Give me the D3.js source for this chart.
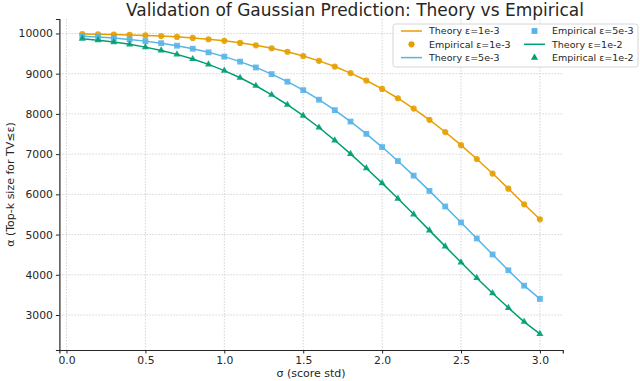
<!DOCTYPE html>
<html>
  <head>
    <meta charset="UTF-8" />
    <style>
      body { margin: 0; background: #fff; }
      svg { display: block; font-family: "DejaVu Sans", sans-serif; }
      .tick text { fill: #262626; }
      .grid line { stroke: #d4d4d4; stroke-dasharray: 1.5,1.5; }
    </style>
  </head>
  <body>
    <svg></svg>
    <script src="https://d3js.org/d3.v7.min.js"></script>
    <script>
      let width = 640,
        height = 381;

      // sigma values on the x axis
      const sigmas = [0.1, 0.2, 0.3, 0.4, 0.5, 0.6, 0.7, 0.8, 0.9, 1.0,
        1.1, 1.2, 1.3, 1.4, 1.5, 1.6, 1.7, 1.8, 1.9, 2.0,
        2.1, 2.2, 2.3, 2.4, 2.5, 2.6, 2.7, 2.8, 2.9, 3.0];

      // eps = 1e-3
      const theory1 = [9986, 9981, 9974, 9964, 9952, 9936, 9916, 9890, 9857, 9817,
        9767, 9706, 9633, 9545, 9441, 9319, 9178, 9015, 8830, 8622,
        8390, 8133, 7853, 7550, 7225, 6880, 6518, 6142, 5754, 5380];
      const empirical1 = [9986, 9981, 9974, 9964, 9952, 9936, 9915, 9889, 9857, 9817,
        9766, 9706, 9632, 9545, 9440, 9319, 9178, 9015, 8829, 8621,
        8389, 8132, 7852, 7549, 7224, 6879, 6517, 6141, 5753, 5380];
      // eps = 5e-3
      const theory5 = [9934, 9912, 9886, 9852, 9810, 9759, 9697, 9621, 9531, 9425,
        9300, 9156, 8990, 8802, 8590, 8354, 8094, 7811, 7504, 7176,
        6829, 6465, 6087, 5698, 5302, 4903, 4506, 4113, 3729, 3400];
      const empirical5 = [9933, 9912, 9885, 9852, 9810, 9759, 9696, 9621, 9531, 9424,
        9300, 9155, 8990, 8801, 8590, 8353, 8094, 7810, 7504, 7176,
        6828, 6465, 6086, 5698, 5302, 4903, 4505, 4113, 3729, 3400];
      // eps = 1e-2
      const theory10 = [9870, 9833, 9786, 9730, 9661, 9579, 9481, 9365, 9231, 9076,
        8900, 8700, 8476, 8228, 7957, 7662, 7344, 7007, 6650, 6279,
        5895, 5503, 5105, 4706, 4311, 3922, 3543, 3179, 2831, 2530];
      const empirical10 = [9870, 9832, 9786, 9729, 9661, 9578, 9481, 9365, 9230, 9076,
        8899, 8700, 8475, 8228, 7956, 7662, 7343, 7006, 6650, 6278,
        5895, 5503, 5104, 4706, 4310, 3922, 3542, 3178, 2831, 2530];

      const xTicks = [0.0, 0.5, 1.0, 1.5, 2.0, 2.5, 3.0];
      const yTicks = [3000, 4000, 5000, 6000, 7000, 8000, 9000, 10000];

      const series = [
        { theory: theory1, emp: empirical1, color: "#E69F00", marker: "circle", eps: "1e-3" },
        { theory: theory5, emp: empirical5, color: "#56B4E9", marker: "square", eps: "5e-3" },
        { theory: theory10, emp: empirical10, color: "#009E73", marker: "triangle", eps: "1e-2" },
      ];

      let svg = d3.select("svg").attr("width", width).attr("height", height);

      const pLeft = 59.4, pRight = 562.8, pTop = 19, pBottom = 350;

      // matplotlib style 5% padding
      let pad = function (ext) {
        let d = (ext[1] - ext[0]) * 0.05;
        return [ext[0] - d, ext[1] + d];
      };

      let x = d3.scaleLinear().domain(pad(d3.extent(sigmas))).range([pLeft, pRight]);
      // y limits as in the figure
      let y = d3.scaleLinear().domain([2130, 10360]).range([pBottom, pTop]);

      // grid
      let grid = svg.append("g").attr("class", "grid");
      grid.selectAll(".gx").data(xTicks).enter().append("line")
        .attr("x1", (d) => x(d)).attr("x2", (d) => x(d))
        .attr("y1", pTop).attr("y2", pBottom);
      grid.selectAll(".gy").data(yTicks).enter().append("line")
        .attr("x1", pLeft).attr("x2", pRight)
        .attr("y1", (d) => y(d)).attr("y2", (d) => y(d));

      // axes
      let xAxis = svg.append("g")
        .attr("transform", "translate(0," + pBottom + ")")
        .call(d3.axisBottom(x).tickValues(xTicks).tickFormat(d3.format(".1f")).tickSize(3.5).tickPadding(2.5));
      let yAxis = svg.append("g")
        .attr("transform", "translate(" + pLeft + ",0)")
        .call(d3.axisLeft(y).tickValues(yTicks).tickFormat(d3.format("d")).tickSize(3.5).tickPadding(3));
      [xAxis, yAxis].forEach(function (a) {
        a.select(".domain").attr("stroke", "#262626").attr("stroke-width", 1.2);
        a.selectAll(".tick line").attr("stroke", "#262626");
        a.selectAll(".tick text").style("font-size", "10.8px").attr("font-family", "DejaVu Sans");
      });

      let line = d3.line().x((d, i) => x(sigmas[i])).y((d) => y(d));

      let symbolFor = function (m) {
        if (m == "circle") return d3.symbol().type(d3.symbolCircle).size(30);
        if (m == "square") return d3.symbol().type(d3.symbolSquare).size(34);
        return d3.symbol().type(d3.symbolTriangle).size(22);
      };

      series.forEach(function (s) {
        svg.append("path")
          .datum(s.theory)
          .attr("d", line)
          .attr("fill", "none")
          .attr("stroke", s.color)
          .attr("stroke-width", 1.5);
      });
      series.forEach(function (s) {
        svg.append("g").selectAll("path").data(s.emp).enter().append("path")
          .attr("d", symbolFor(s.marker))
          .attr("transform", (d, i) => "translate(" + x(sigmas[i]) + "," + y(d) + ")")
          .attr("fill", s.color)
          .attr("fill-opacity", 0.9);
      });

      // title + labels
      svg.append("text")
        .attr("x", 355).attr("y", 15.5)
        .attr("text-anchor", "middle")
        .style("font-size", "17px")
        .attr("fill", "#262626")
        .text("Validation of Gaussian Prediction: Theory vs Empirical");
      svg.append("text")
        .attr("x", (pLeft + pRight) / 2).attr("y", 377)
        .attr("text-anchor", "middle")
        .style("font-size", "11px")
        .attr("fill", "#262626")
        .text("σ (score std)");
      svg.append("text")
        .attr("transform", "translate(14," + (pTop + pBottom) / 2 + ") rotate(-90)")
        .attr("text-anchor", "middle")
        .style("font-size", "11px")
        .attr("fill", "#262626")
        .text("α (Top-k size for TV≤ε)");

      // legend, two columns like matplotlib ncol=2
      let entries = [];
      series.forEach(function (s) {
        entries.push({ kind: "line", s: s, label: "Theory ε=" + s.eps });
        entries.push({ kind: "marker", s: s, label: "Empirical ε=" + s.eps });
      });
      let legend = svg.append("g").attr("class", "legend");
      legend.append("rect")
        .attr("x", 393).attr("y", 24).attr("width", 245).attr("height", 43)
        .attr("rx", 2.5)
        .attr("fill", "#fff").attr("fill-opacity", 0.8)
        .attr("stroke", "#cccccc").attr("stroke-width", 0.8);
      entries.forEach(function (e, i) {
        let col = Math.floor(i / 3), row = i % 3;
        let hx = col == 0 ? 401 : 524;
        let ty = 31 + row * 13.3;
        let g = legend.append("g");
        if (e.kind == "line") {
          g.append("line").attr("x1", hx).attr("x2", hx + 21)
            .attr("y1", ty).attr("y2", ty)
            .attr("stroke", e.s.color).attr("stroke-width", 1.5);
        } else {
          g.append("path").attr("d", symbolFor(e.s.marker))
            .attr("transform", "translate(" + (hx + 10.5) + "," + ty + ")")
            .attr("fill", e.s.color);
        }
        g.append("text").attr("x", hx + 28).attr("y", ty + 3.3)
          .style("font-size", "9.5px").attr("fill", "#262626")
          .text(e.label);
      });
    </script>
  </body>
</html>
